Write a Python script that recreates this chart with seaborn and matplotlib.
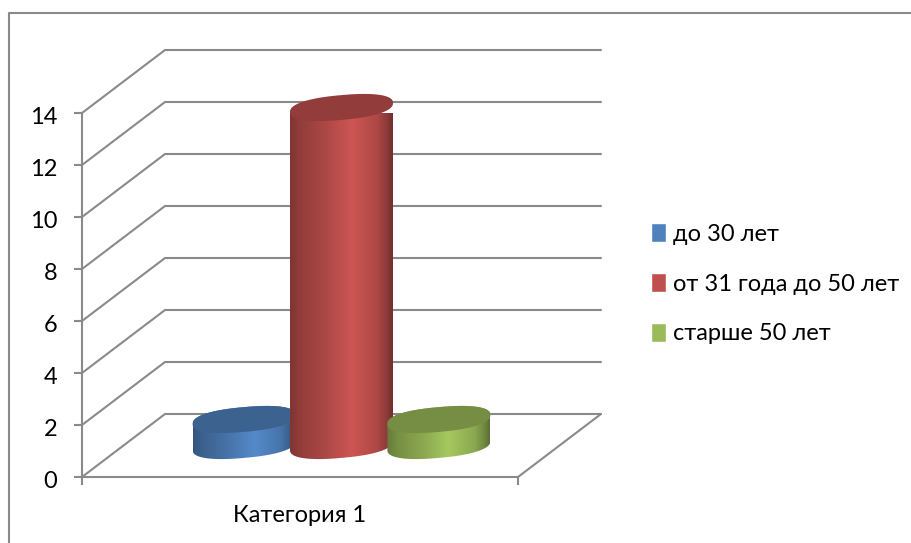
import numpy as np
import pandas as pd
import matplotlib
matplotlib.use("Agg")
import matplotlib.pyplot as plt
from matplotlib.colors import LinearSegmentedColormap, to_rgb
from matplotlib.lines import Line2D
from matplotlib.patches import Polygon
from matplotlib.transforms import ScaledTranslation
import seaborn as sns

categories = ["Категория 1"]
series = ["до 30 лет", "от 31 года до 50 лет", "старше 50 лет"]
values = [1, 13, 1]
colors = ["#4F81BD", "#C0504D", "#9BBB59"]
yticks = [0, 2, 4, 6, 8, 10, 12, 14]

W, H = 911, 543
sns.set_theme(style="white")
plt.rcParams["font.family"] = ["Lato", "Open Sans", "DejaVu Sans"]
GRAY = "#8A8A8A"
FS = 17

fig = plt.figure(figsize=(W / 100, H / 100), dpi=100, facecolor="white")
ax = fig.add_axes([82 / W, 1 - 477 / H, 436 / W, 364 / H], facecolor="none")

df = pd.DataFrame({"cat": categories * 3, "series": series, "value": values})
sns.barplot(data=df, x="cat", y="value", hue="series", palette=colors, hue_order=series,
            width=0.67, gap=0, saturation=1, ax=ax)
ax.set_xlim(-0.5, 0.5)
ax.set_ylim(0, 14)
ax.set_xlabel("")
ax.set_ylabel("")

sns.move_legend(ax, "upper left", bbox_to_anchor=(651 / W, 1 - 223 / H),
                bbox_transform=fig.transFigure, frameon=False, title=None,
                fontsize=FS, handlelength=0.64, handleheight=0.85, handletextpad=0.3,
                labelspacing=1.2, borderpad=0, borderaxespad=0, labelcolor="black")

# 3D box depth, in data units
px_x = 1 / 436
px_y = 14 / 364
DX = 83 * px_x
DY = 63 * px_y

# walls and floor
for v in yticks:
    xs = [-0.5, -0.5 + DX, 0.5 + DX]
    ys = [v, v + DY, v + DY]
    ax.plot(xs, ys, color=GRAY, lw=1.5, clip_on=False, zorder=1, solid_joinstyle="miter")
ax.plot([0.5, 0.5 + DX], [0, DY], color=GRAY, lw=1.5, clip_on=False, zorder=1)

for s in ("top", "right"):
    ax.spines[s].set_visible(False)
for s in ("left", "bottom"):
    ax.spines[s].set_color(GRAY)
    ax.spines[s].set_linewidth(1.5)
    ax.spines[s].set_zorder(2)

ax.set_yticks(yticks)
ax.tick_params(axis="y", left=True, length=5.8, width=1.5, color=GRAY, labelsize=FS,
               labelcolor="black", pad=12)
shift = ScaledTranslation(0, -2 / 72, fig.dpi_scale_trans)
for lab in ax.get_yticklabels():
    lab.set_transform(lab.get_transform() + shift)
ax.set_xticks([0])
ax.set_xticklabels(categories)
ax.tick_params(axis="x", which="major", bottom=False, labelsize=FS, labelcolor="black", pad=14)
ax.set_xticks([-0.5, 0.5], minor=True)
ax.tick_params(axis="x", which="minor", bottom=True, length=5.8, width=1.5, color=GRAY)

# cylinders built from the bars that seaborn positioned
STOPS = [(0.0, 0.66), (0.1, 0.76), (0.35, 0.9), (0.6, 1.07), (0.85, 0.9), (0.95, 0.72), (1.0, 0.58)]


def shade(c, f):
    return tuple(min(1, x * f) for x in to_rgb(c))


bars = [p for p in ax.patches if p.get_height() > 0]
bars = sorted(bars, key=lambda p: p.get_x())
t_low = np.linspace(np.pi, 2 * np.pi, 120)
t_up = np.linspace(0, np.pi, 120)
for i, (bar, col) in enumerate(zip(bars, colors)):
    bar.set_visible(False)
    cx = bar.get_x() + bar.get_width() / 2 + DX / 2
    a = 51.5 * px_x
    b = 12.4 * px_y
    s = 4.5 * px_y
    y0 = DY / 2
    y1 = y0 + bar.get_height()

    def ell(t, yc):
        c = np.sign(np.cos(t)) * np.abs(np.cos(t)) ** 0.85
        n = np.sign(np.sin(t)) * np.abs(np.sin(t)) ** 0.85
        return np.column_stack([cx + a * c, yc + s * c + b * n])

    body = np.vstack([ell(t_low, y0), ell(t_up, y1)])
    z = 3 + i
    poly = Polygon(body, closed=True, transform=ax.transData, fc="none", ec="none")
    ax.add_patch(poly)
    cmap = LinearSegmentedColormap.from_list("c", [(p, shade(col, f)) for p, f in STOPS])
    im = ax.imshow(np.linspace(0, 1, 256)[None, :], cmap=cmap, aspect="auto",
                   extent=[cx - a, cx + a, y0 - 2 * b, y1 + 2 * b], zorder=z,
                   interpolation="bilinear", clip_on=True)
    im.set_clip_path(poly)
    ax.add_patch(Polygon(ell(np.linspace(0, 2 * np.pi, 240), y1), closed=True,
                         fc=shade(col, 0.76), ec="none", zorder=z + 0.5, clip_on=False))

ax.set_xlim(-0.5, 0.5)
ax.set_ylim(0, 14)

# chart frame
fx = [8.5 / W, 8.5 / W, 1]
fy = [0, 1 - 13 / H, 1 - 13 / H]
fig.add_artist(Line2D(fx, fy, color=GRAY, lw=1.5, transform=fig.transFigure))

fig.savefig("out.png", dpi=100)
